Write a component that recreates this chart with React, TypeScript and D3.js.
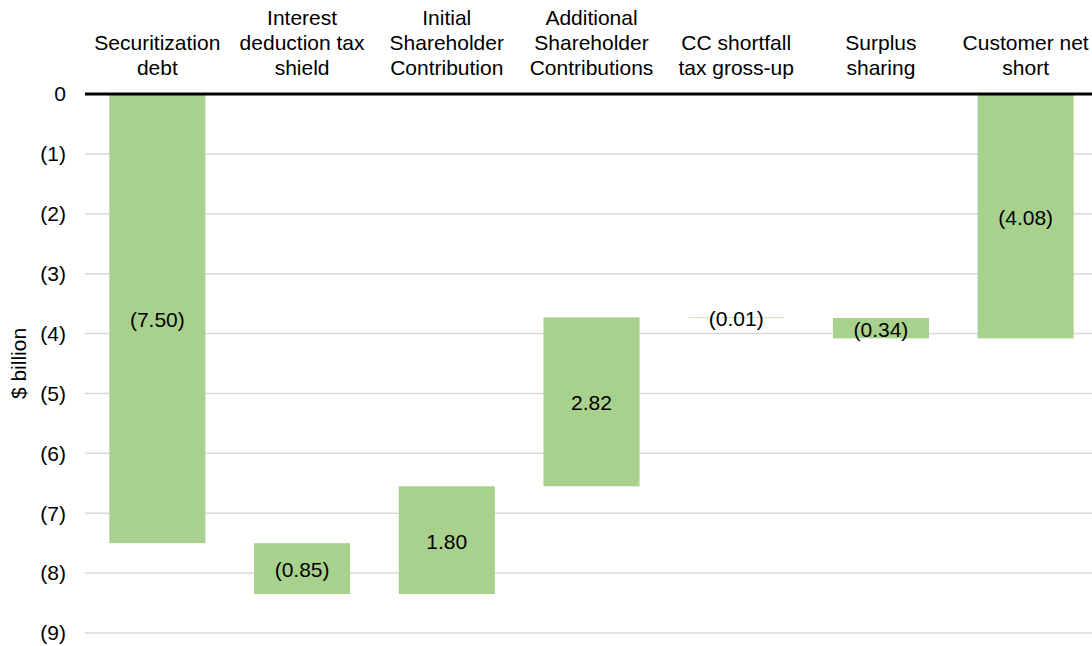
import React from "react";
import * as d3 from "d3";

const categories: string[][] = [
  ["Securitization", "debt"],
  ["Interest", "deduction tax", "shield"],
  ["Initial", "Shareholder", "Contribution"],
  ["Additional", "Shareholder", "Contributions"],
  ["CC shortfall", "tax gross-up"],
  ["Surplus", "sharing"],
  ["Customer net", "short"],
];
const deltas: number[] = [-7.5, -0.85, 1.8, 2.82, -0.01, -0.34, 4.08];
const isTotal: boolean[] = [false, false, false, false, false, false, true];
const labels: string[] = ["(7.50)", "(0.85)", "1.80", "2.82", "(0.01)", "(0.34)", "(4.08)"];
const yTicks: number[] = [0, -1, -2, -3, -4, -5, -6, -7, -8, -9];
const yTickLabels: string[] = ["0", "(1)", "(2)", "(3)", "(4)", "(5)", "(6)", "(7)", "(8)", "(9)"];
const yAxisTitle = "$ billion";

const W = 1092;
const H = 646;
const FONT = "'Liberation Sans', Arial, sans-serif";
const FS = 21;

export default function App() {
  const x = d3
    .scaleBand<number>()
    .domain(categories.map((_, i) => i))
    .range([85, 1098])
    .paddingInner(0.336)
    .paddingOuter(0.168);
  const y = d3.scaleLinear().domain([-9, 0]).range([633, 94]);

  let cum = 0;
  const bars = deltas.map((d, i) => {
    let start: number, end: number;
    if (isTotal[i]) {
      start = cum;
      end = 0;
    } else {
      start = cum;
      end = cum + d;
      cum = end;
    }
    return { i, start, end };
  });

  return (
    <svg
      width={W}
      height={H}
      style={{ position: "absolute", left: 0, top: 0, display: "block" }}
      fontFamily={FONT}
    >
      <rect x={0} y={0} width={W} height={H} fill="#fff" />
      {yTicks.map((t, k) =>
        t === 0 ? null : (
          <line key={"g" + k} x1={85} x2={1092} y1={y(t)} y2={y(t)} stroke="#d9d9d9" strokeWidth={1.5} />
        )
      )}
      {yTicks.map((t, k) => (
        <text key={"t" + k} x={66} y={y(t)} dy="0.35em" textAnchor="end" fontSize={FS} fill="#000">
          {yTickLabels[k]}
        </text>
      ))}
      <text
        transform={`translate(26, ${(y(0) + y(-9)) / 2}) rotate(-90)`}
        textAnchor="middle"
        fontSize={FS}
        fill="#000"
      >
        {yAxisTitle}
      </text>
      {bars.map((b) => {
        const top = y(Math.max(b.start, b.end));
        const bot = y(Math.min(b.start, b.end));
        const h = bot - top;
        const thin = h < 2;
        return (
          <rect
            key={"b" + b.i}
            x={x(b.i)!}
            y={thin ? (top + bot) / 2 - 0.5 : top}
            width={x.bandwidth()}
            height={thin ? 1 : h}
            fill="#a9d18e"
            opacity={thin ? 0.6 : 1}
          />
        );
      })}
      <line x1={85} x2={1092} y1={y(0)} y2={y(0)} stroke="#000" strokeWidth={3} />
      {bars.map((b) => (
        <text
          key={"l" + b.i}
          x={x(b.i)! + x.bandwidth() / 2}
          y={(y(b.start) + y(b.end)) / 2 + 1}
          dy="0.35em"
          textAnchor="middle"
          fontSize={FS}
          fill="#000"
        >
          {labels[b.i]}
        </text>
      ))}
      {categories.map((lines, i) => (
        <text key={"c" + i} textAnchor="middle" fontSize={FS} fill="#000">
          {lines.map((ln, j) => (
            <tspan key={j} x={x(i)! + x.bandwidth() / 2} y={75 - (lines.length - 1 - j) * 25}>
              {ln}
            </tspan>
          ))}
        </text>
      ))}
    </svg>
  );
}
